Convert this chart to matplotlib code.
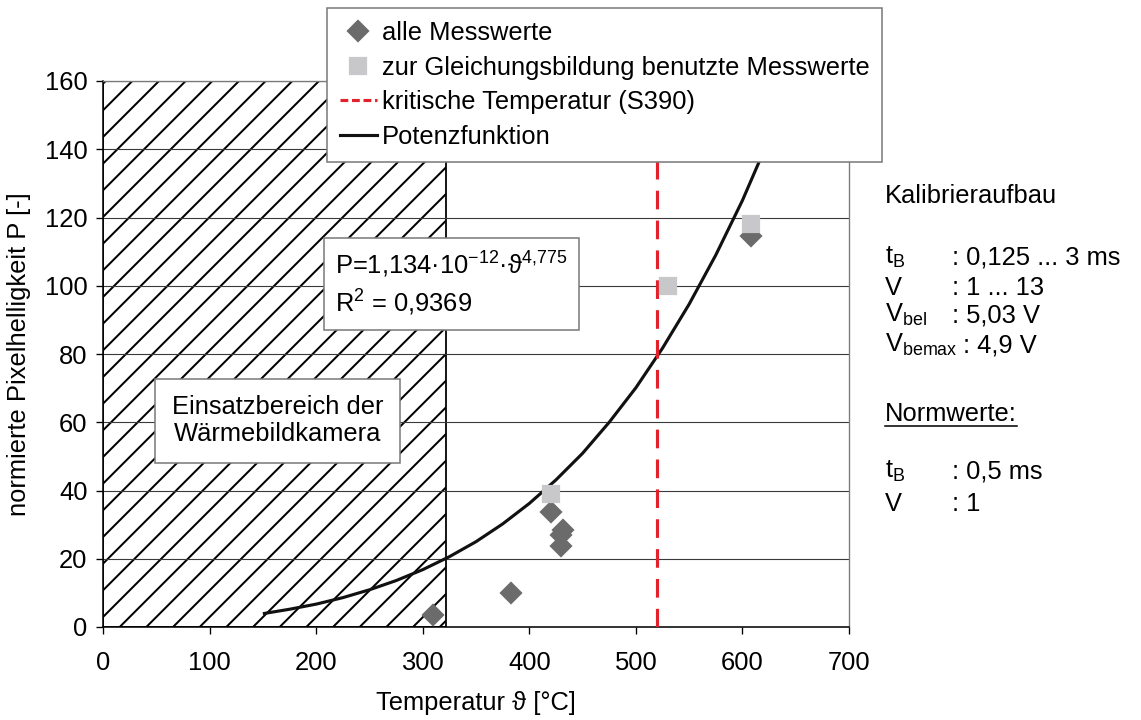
import matplotlib
matplotlib.use('Agg')
import matplotlib.pyplot as plt
from matplotlib.lines import Line2D

alle_T = [310, 383, 420, 432, 430, 430, 608]
alle_P = [3.5, 10, 33.7, 28.5, 27, 23.8, 114.5]

gl_T = [420, 530, 608]
gl_P = [39, 100, 118]

# Potenzfunktion
kurve_T = [150, 175, 200, 225, 250, 275, 300, 325, 350, 375, 400, 425, 450,
           475, 500, 525, 550, 575, 600, 618, 630, 646]
kurve_P = [3.9, 5.2, 6.7, 8.6, 10.9, 13.6, 16.8, 20.6, 25.0, 30.2, 36.2, 43.1,
           50.9, 60.0, 70.1, 81.7, 94.6, 109, 125, 138, 148, 160]

T_krit = 520
einsatz_bis = 322

x_ticks = [0, 100, 200, 300, 400, 500, 600, 700]
y_ticks = [0, 20, 40, 60, 80, 100, 120, 140, 160]

plt.rcParams['font.family'] = ['Liberation Sans', 'DejaVu Sans']
plt.rcParams['mathtext.fontset'] = 'custom'
plt.rcParams['mathtext.rm'] = 'Liberation Sans'
plt.rcParams['mathtext.it'] = 'Liberation Sans:italic'
plt.rcParams['mathtext.bf'] = 'Liberation Sans:bold'
plt.rcParams['hatch.linewidth'] = 0.9
fs = 11.5

W, H = 1141, 720
fig = plt.figure(figsize=(W / 160, H / 160), dpi=160)
ax = fig.add_axes([103 / W, 1 - 627 / H, (849 - 103) / W, (627 - 81) / H])

# Einsatzbereich schraffiert
ax.axvspan(0, einsatz_bis, facecolor='white', edgecolor='black', hatch='//',
           linewidth=0.8, zorder=0)

ax.set_axisbelow(True)
ax.yaxis.grid(True, color='#3a3a3a', linewidth=0.5)

ax.plot(kurve_T, kurve_P, color='#111111', lw=1.4, zorder=3,
        solid_capstyle='butt')
ax.axvline(T_krit, color='#e3212b', lw=1.4, dashes=(6, 3.6), zorder=4)
ax.plot(alle_T, alle_P, 'D', color='#6b6b6b', ms=6.2, mec='#6b6b6b', zorder=5)
ax.plot(gl_T, gl_P, 's', color='#c8c8cb', ms=7.6, mec='#c8c8cb', zorder=6)

ax.set_xlim(0, 700)
ax.set_ylim(0, 160)
ax.set_xticks(x_ticks)
ax.set_yticks(y_ticks)
ax.tick_params(labelsize=fs, length=3, width=0.6, color='black', pad=8)
ax.tick_params(axis='y', pad=4)
for s in ['left', 'bottom']:
    ax.spines[s].set_color('black')
    ax.spines[s].set_linewidth(0.7)
for s in ['top', 'right']:
    ax.spines[s].set_color('#7a7a7a')
    ax.spines[s].set_linewidth(0.6)

ax.set_xlabel('Temperatur ϑ [°C]', fontsize=fs, labelpad=7)
ax.set_ylabel('normierte Pixelhelligkeit P [-]', fontsize=fs, labelpad=6)

# Textfelder
ax.text(218, 100.5, 'P=1,134·10$^{-12}$·ϑ$^{4{,}775}$\nR$^{2}$ = 0,9369',
        fontsize=fs, va='center', ha='left', linespacing=1.35, zorder=7,
        bbox=dict(boxstyle='square,pad=0.45', fc='white', ec='#7a7a7a', lw=0.7))
ax.text(164, 60.4, 'Einsatzbereich der\nWärmebildkamera', fontsize=fs,
        va='center', ha='center', linespacing=1.15, zorder=7,
        bbox=dict(boxstyle='square,pad=0.65', fc='white', ec='#7a7a7a', lw=0.7))

# Legende
handles = [
    Line2D([], [], ls='none', marker='D', color='#6b6b6b', ms=6.2),
    Line2D([], [], ls='none', marker='s', color='#c8c8cb', ms=7.6),
    Line2D([], [], color='#e3212b', lw=1.4, dashes=(2.5, 1.2)),
    Line2D([], [], color='#111111', lw=1.4),
]
labels = ['alle Messwerte', 'zur Gleichungsbildung benutzte Messwerte',
          'kritische Temperatur (S390)', 'Potenzfunktion']
leg = ax.legend(handles, labels, loc='upper left',
                bbox_to_anchor=(327 / W, 1 - 8 / H), bbox_transform=fig.transFigure,
                fontsize=fs, frameon=True, fancybox=False, framealpha=1,
                edgecolor='#7a7a7a', handlelength=1.45, handletextpad=0.2,
                labelspacing=0.42, borderpad=0.5, borderaxespad=0)
leg.get_frame().set_linewidth(0.7)
leg.set_zorder(10)

# Kalibrierdaten rechts
xl, xc = 885 / W, 952 / W
fig.text(xl, 1 - 203 / H, 'Kalibrieraufbau', fontsize=fs, va='baseline')
rows = [('t$_{\\mathrm{B}}$', ': 0,125 ... 3 ms', 264, xc),
        ('V', ': 1 ... 13', 295, xc),
        ('V$_{\\mathrm{bel}}$', ': 5,03 V', 322, xc),
        ('V$_{\\mathrm{bemax}}$', ': 4,9 V', 352, 963 / W),
        ('t$_{\\mathrm{B}}$', ': 0,5 ms', 478, xc),
        ('V', ': 1', 511, xc)]
for lab, val, yb, xv in rows:
    fig.text(xl, 1 - yb / H, lab, fontsize=fs, va='baseline')
    fig.text(xv, 1 - yb / H, val, fontsize=fs, va='baseline')
nw = fig.text(xl, 1 - 421 / H, 'Normwerte:', fontsize=fs, va='baseline')

fig.canvas.draw()
bb = nw.get_window_extent().transformed(fig.transFigure.inverted())
fig.add_artist(Line2D([bb.x0, bb.x1], [1 - 426 / H, 1 - 426 / H],
                      color='black', lw=0.7, transform=fig.transFigure))

fig.savefig('out.png', dpi=160, facecolor='white')
